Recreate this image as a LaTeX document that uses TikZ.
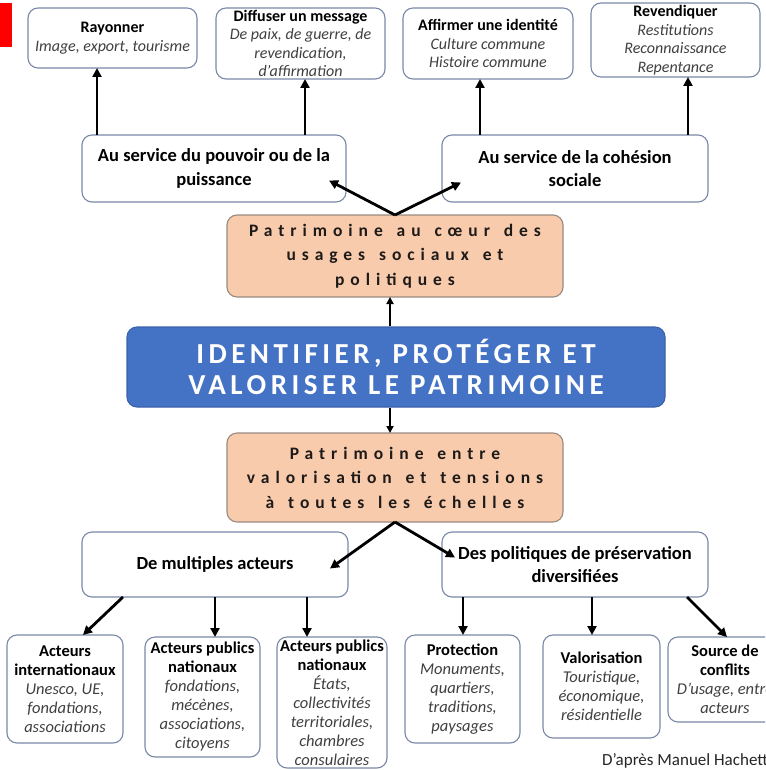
\documentclass[tikz,border=0pt]{standalone}
\usepackage{fontspec}
\setmainfont{Carlito}
\newfontfamily\pfont[LetterSpace=34,WordSpace=1.4]{Carlito}
\usetikzlibrary{arrows.meta,calc}
\definecolor{bordc}{HTML}{7A88A8}
\definecolor{peach}{HTML}{F8CBAD}
\definecolor{pbord}{HTML}{9A8A80}
\definecolor{ptext}{HTML}{1E1A18}
\definecolor{blueb}{HTML}{4472C4}
\definecolor{bluebord}{HTML}{3A62AA}
\definecolor{itc}{HTML}{404040}
\newcommand\ital[1]{{\itshape\color{itc}#1}}
\tikzset{
  wbox/.style={draw=bordc, line width=1.1pt, rounded corners=10pt, fill=white, align=center, inner sep=0pt, outer sep=0pt},
  topf/.style={font=\fontsize{16}{18.5}\selectfont},
  midf/.style={font=\fontsize{18.5}{23.5}\selectfont\bfseries},
  botf/.style={font=\fontsize{16.5}{19}\selectfont},
  pbox/.style={draw=pbord, line width=1.1pt, rounded corners=10pt, fill=peach, align=center, inner sep=0pt, outer sep=0pt, text=ptext, font=\pfont\fontsize{17.5}{24.5}\selectfont\bfseries},
  arr/.style={line width=2.8pt, -{Triangle[length=9pt,width=9pt]}},
  arrthin/.style={line width=2.2pt, -{Triangle[length=7pt,width=7pt]}}
}
\begin{document}
\begin{tikzpicture}[x=1pt,y=-1pt]
\useasboundingbox (0,0) rectangle (765,770);
\clip (0,0) rectangle (765,770);
\fill[white] (0,0) rectangle (765,770);
\fill[red] (0,3) rectangle (12,47);

% top row
\node[wbox,topf,minimum width=169pt,minimum height=60pt] (ray) at (112.5,38) {\textbf{Rayonner}\\\ital{Image, export, tourisme}};
\node[wbox,topf,minimum width=169pt,minimum height=71pt] (dif) at (300.5,43.5) {\textbf{Diffuser un message}\\\ital{De paix, de guerre, de}\\\ital{revendication,}\\\ital{d'affirmation}};
\node[wbox,topf,minimum width=170pt,minimum height=71pt] (aff) at (488,43.5) {\textbf{Affirmer une identité}\\\ital{Culture commune}\\\ital{Histoire commune}};
\node[wbox,topf,minimum width=169pt,minimum height=74pt] (rev) at (675.5,40) {\textbf{Revendiquer}\\\ital{Restitutions}\\\ital{Reconnaissance}\\\ital{Repentance}};

% second row
\node[wbox,midf,minimum width=264pt,minimum height=67pt] (pouv) at (214,168.5) {Au service du pouvoir ou de la\\puissance};
\node[wbox,midf,minimum width=266pt,minimum height=67pt] (coh) at (575,168.5) {Au service de la cohésion\\sociale};

% peach top
\node[pbox,minimum width=336pt,minimum height=82pt] (pc) at (395,256) {Patrimoine au cœur des\\usages sociaux et\\politiques};

% central blue
\node[draw=bluebord, line width=1.1pt, fill=blueb, rounded corners=10pt, text=white, align=center, inner sep=0pt, minimum width=538pt, minimum height=80pt, font=\fontsize{29}{31}\selectfont\bfseries\addfontfeature{LetterSpace=15.5}] (id) at (396,367) {IDENTIFIER, PROTÉGER ET\\VALORISER LE PATRIMOINE};

% peach bottom
\node[pbox,minimum width=336pt,minimum height=89pt] (pe) at (395,477.5) {Patrimoine entre\\valorisation et tensions\\à toutes les échelles};

% third row
\node[wbox,midf,minimum width=266pt,minimum height=65pt] (act) at (215,564.5) {De multiples acteurs};
\node[wbox,midf,minimum width=266pt,minimum height=65pt] (pol) at (575,564.5) {Des politiques de préservation\\diversifiées};

% bottom row
\node[wbox,botf,minimum width=116pt,minimum height=108pt] (b1) at (65,689) {\textbf{Acteurs}\\\textbf{internationaux}\\\ital{Unesco, UE,}\\\ital{fondations,}\\\ital{associations}};
\node[wbox,botf,minimum width=115pt,minimum height=120pt] (b2) at (202.5,697) {\textbf{Acteurs publics}\\\textbf{nationaux}\\\ital{fondations,}\\\ital{mécènes,}\\\ital{associations,}\\\ital{citoyens}};
\node[wbox,botf,minimum width=110pt,minimum height=131pt] (b3) at (332,702.5) {\textbf{Acteurs publics}\\\textbf{nationaux}\\\ital{États,}\\\ital{collectivités}\\\ital{territoriales,}\\\ital{chambres}\\\ital{consulaires}};
\node[wbox,botf,minimum width=115pt,minimum height=108pt] (prot) at (462.5,689) {\textbf{Protection}\\\ital{Monuments,}\\\ital{quartiers,}\\\ital{traditions,}\\\ital{paysages}};
\node[wbox,botf,minimum width=117pt,minimum height=103pt] (val) at (601.5,686.5) {\textbf{Valorisation}\\\ital{Touristique,}\\\ital{économique,}\\\ital{résidentielle}};
\node[wbox,botf,minimum width=114pt,minimum height=85pt] (conf) at (725,679.5) {\textbf{Source de}\\\textbf{conflits}\\\ital{D'usage, entre}\\\ital{acteurs}};

\node[anchor=west, inner sep=0pt, font=\fontsize{17}{19}\selectfont, text=black!85] (src) at (602,761) {D'après Manuel Hachette};

% arrows up to top row
\coordinate (a1) at ([xshift=15pt]pouv.north west);
\coordinate (a2) at ([xshift=-41pt]pouv.north east);
\coordinate (a3) at ([xshift=38pt]coh.north west);
\coordinate (a4) at ([xshift=-20pt]coh.north east);
\draw[arr] (a1) -- (a1 |- ray.south);
\draw[arr] (a2) -- (a2 |- dif.south);
\draw[arr] (a3) -- (a3 |- aff.south);
\draw[arr] (a4) -- (a4 |- rev.south);

% V from pc
\coordinate (t1) at ([xshift=-17pt,yshift=-12pt]pouv.east);
\coordinate (t2) at ([xshift=19pt,yshift=-14pt]coh.west);
\draw[arr] (pc.north) -- (t1);
\draw[arr] (pc.north) -- (t2);

% id <-> peach
\coordinate (u1) at ([xshift=-6pt]id.north);
\draw[arrthin] (u1) -- (u1 |- pc.south);
\coordinate (u2) at ([xshift=-6pt]id.south);
\draw[arrthin] (u2) -- (u2 |- pe.north);

% V from pe
\coordinate (t3) at ([xshift=-18pt,yshift=-4pt]act.east);
\coordinate (t4) at ([xshift=13pt,yshift=7pt]pol.west);
\draw[arr] (pe.south) -- (t3);
\draw[arr] (pe.south) -- (t4);

% arrows to bottom row
\coordinate (s1) at ([xshift=41pt]act.south west);
\coordinate (e1) at ([xshift=76pt]b1.north west);
\draw[arr] (s1) -- (e1);
\draw[arr] (act.south) -- (act.south |- b2.north);
\coordinate (s3) at ([xshift=92pt]act.south);
\draw[arr] (s3) -- (s3 |- b3.north);
\coordinate (s4) at ([xshift=21pt]pol.south west);
\draw[arr] (s4) -- (s4 |- prot.north);
\coordinate (s5) at ([xshift=150pt]pol.south west);
\draw[arr] (s5) -- (s5 |- val.north);
\coordinate (s6) at ([xshift=-21pt]pol.south east);
\coordinate (e6) at ([xshift=59pt]conf.north west);
\draw[arr] (s6) -- (e6);
\end{tikzpicture}
\end{document}
